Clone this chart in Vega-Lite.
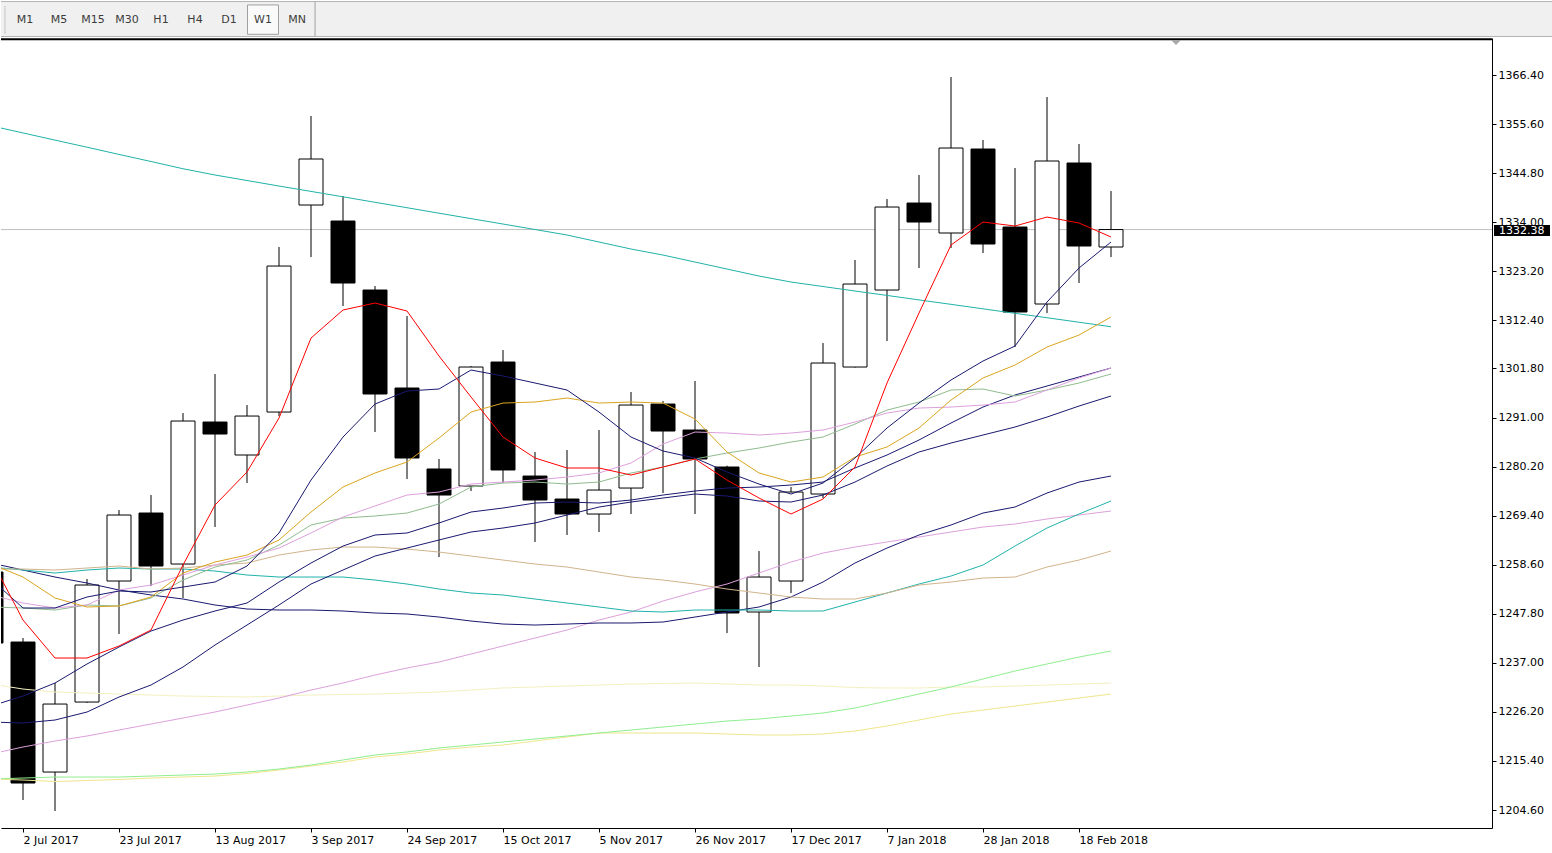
{
  "$schema": "https://vega.github.io/schema/vega-lite/v6.json",
  "background": "#ffffff",
  "padding": {"left": 0, "top": 0, "right": 0, "bottom": 10},
  "spacing": 0,
  "config": {
    "view": {"stroke": null},
    "axis": {"grid": false, "labelFont": "DejaVu Sans", "labelFontSize": 11, "labelColor": "#000000", "tickColor": "#000000", "domainColor": "#000000", "title": null}
  },
  "vconcat": [
    {
      "width": 1552,
      "height": 36,
      "view": {"fill": "#f0f0f0", "stroke": null},
      "data": {"values": [
        {"tf": "M1", "slot": 1}, {"tf": "M5", "slot": 2}, {"tf": "M15", "slot": 3},
        {"tf": "M30", "slot": 4}, {"tf": "H1", "slot": 5}, {"tf": "H4", "slot": 6},
        {"tf": "D1", "slot": 7}, {"tf": "W1", "slot": 8}, {"tf": "MN", "slot": 9}
      ]},
      "layer": [
        {
          "transform": [{"filter": "datum.tf === 'W1'"}],
          "mark": {"type": "bar", "size": 31, "fill": "#fafafa", "stroke": "#a0a0a0", "strokeWidth": 1},
          "encoding": {
            "x": {"field": "slot", "type": "quantitative", "scale": {"domain": [0.294, 45.94], "nice": false, "zero": false, "padding": 0}, "axis": null},
            "y": {"datum": 0.075, "type": "quantitative", "scale": {"domain": [0, 1], "nice": false, "padding": 0}, "axis": null},
            "y2": {"datum": 0.89}
          }
        },
        {
          "mark": {"type": "text", "font": "DejaVu Sans", "fontSize": 11, "color": "#3c3c3c", "baseline": "middle"},
          "encoding": {
            "x": {"field": "slot", "type": "quantitative", "axis": null},
            "y": {"datum": 0.47, "type": "quantitative", "axis": null},
            "text": {"field": "tf"}
          }
        },
        {
          "data": {"values": [{}]},
          "mark": {"type": "rule", "color": "#a0a0a0", "strokeWidth": 1},
          "encoding": {"x": {"datum": 9.53, "type": "quantitative", "axis": null}}
        },
        {
          "data": {"values": [{}]},
          "mark": {"type": "rule", "color": "#9a9a9a", "strokeWidth": 1, "strokeDash": [1, 1]},
          "encoding": {
            "x": {"datum": 0.41, "type": "quantitative", "axis": null},
            "y": {"datum": 0.1, "type": "quantitative", "axis": null},
            "y2": {"datum": 0.86}
          }
        },
        {
          "data": {"values": [{"edge": 0.985}, {"edge": 0.014}]},
          "mark": {"type": "rule", "color": "#b4b4b4", "strokeWidth": 1},
          "encoding": {"y": {"field": "edge", "type": "quantitative", "axis": null}}
        }
      ]
    },
    {
      "width": 1491,
      "height": 790,
      "view": {"stroke": null},
      "data": {"values": [
        {"d":"2017-06-25","o":1256.99,"h":1262.0,"l":1236.0,"c":1241.36,"r":1259.85,"n1":1255.45,"g":1258.75,"p1":1251.93,"s":1249.29,"n2":1227.49,"n3":1223.97,"tn":1257.65,"tl":1258.09,"n4":1258.97,"p2":1216.93,"lg":1211.42,"kh":1211.42,"ly":1232.34,"tu":1355.22},
        {"d":"2017-07-02","o":1241.58,"h":1242.46,"l":1206.80,"c":1210.54,"r":1246.42,"n1":1249.07,"g":1255.89,"p1":1250.17,"s":1249.07,"n2":1229.69,"n3":1223.75,"tn":1257.65,"tl":1257.43,"n4":1257.43,"p2":1218.47,"lg":1211.64,"kh":1211.20,"ly":1231.23,"tu":1353.65},
        {"d":"2017-07-09","o":1212.96,"h":1232.55,"l":1204.38,"c":1227.93,"r":1238.06,"n1":1249.07,"g":1251.27,"p1":1249.07,"s":1248.63,"n2":1232.56,"n3":1224.41,"tn":1257.43,"tl":1256.77,"n4":1255.89,"p2":1219.79,"lg":1211.86,"kh":1210.87,"ly":1230.57,"tu":1352.07},
        {"d":"2017-07-16","o":1228.37,"h":1255.45,"l":1228.20,"c":1254.13,"r":1238.06,"n1":1251.49,"g":1249.29,"p1":1249.73,"s":1249.73,"n2":1236.74,"n3":1226.17,"tn":1257.87,"tl":1257.43,"n4":1254.57,"p2":1220.89,"lg":1211.86,"kh":1211.09,"ly":1230.35,"tu":1350.51},
        {"d":"2017-07-23","o":1255.01,"h":1270.64,"l":1243.34,"c":1269.54,"r":1240.70,"n1":1252.81,"g":1249.51,"p1":1253.03,"s":1249.51,"n2":1240.48,"n3":1229.47,"tn":1258.31,"tl":1257.87,"n4":1253.03,"p2":1222.21,"lg":1211.86,"kh":1211.31,"ly":1230.13,"tu":1348.92},
        {"d":"2017-07-30","o":1269.98,"h":1273.94,"l":1253.91,"c":1258.31,"r":1244.22,"n1":1252.59,"g":1251.49,"p1":1254.13,"s":1251.27,"n2":1244.00,"n3":1232.12,"tn":1257.65,"tl":1257.65,"n4":1251.93,"p2":1223.53,"lg":1212.08,"kh":1211.64,"ly":1229.91,"tu":1347.36},
        {"d":"2017-08-06","o":1258.75,"h":1291.99,"l":1251.27,"c":1290.23,"r":1258.53,"n1":1253.69,"g":1256.77,"p1":1256.33,"s":1255.23,"n2":1246.42,"n3":1236.08,"tn":1257.87,"tl":1257.65,"n4":1251.05,"p2":1224.85,"lg":1212.30,"kh":1211.86,"ly":1229.69,"tu":1345.77},
        {"d":"2017-08-13","o":1290.01,"h":1300.58,"l":1266.90,"c":1287.37,"r":1271.74,"n1":1254.79,"g":1259.19,"p1":1258.53,"s":1258.09,"n2":1248.41,"n3":1240.92,"tn":1258.53,"tl":1257.21,"n4":1249.73,"p2":1226.17,"lg":1212.52,"kh":1212.08,"ly":1229.58,"tu":1344.39},
        {"d":"2017-08-20","o":1282.75,"h":1293.75,"l":1276.58,"c":1291.33,"r":1279.00,"n1":1258.31,"g":1260.73,"p1":1260.29,"s":1259.63,"n2":1250.17,"n3":1245.32,"tn":1258.97,"tl":1256.33,"n4":1248.85,"p2":1227.71,"lg":1212.96,"kh":1212.63,"ly":1229.47,"tu":1343.18},
        {"d":"2017-08-27","o":1292.21,"h":1328.54,"l":1291.30,"c":1324.35,"r":1290.89,"n1":1265.58,"g":1264.04,"p1":1262.27,"s":1262.93,"n2":1254.79,"n3":1249.73,"tn":1260.73,"tl":1255.89,"n4":1248.63,"p2":1229.25,"lg":1213.62,"kh":1213.40,"ly":1229.69,"tu":1341.96},
        {"d":"2017-09-03","o":1337.78,"h":1357.37,"l":1326.33,"c":1347.91,"r":1308.50,"n1":1277.24,"g":1270.20,"p1":1265.58,"s":1267.34,"n2":1258.97,"n3":1254.35,"tn":1261.84,"tl":1255.89,"n4":1248.63,"p2":1231.01,"lg":1214.50,"kh":1214.28,"ly":1229.91,"tu":1340.78},
        {"d":"2017-09-10","o":1334.26,"h":1339.76,"l":1315.55,"c":1320.61,"r":1314.67,"n1":1286.71,"g":1275.70,"p1":1269.10,"s":1268.88,"n2":1262.71,"n3":1257.43,"tn":1262.49,"tl":1255.89,"n4":1248.41,"p2":1232.56,"lg":1215.61,"kh":1215.16,"ly":1230.02,"tu":1339.59},
        {"d":"2017-09-17","o":1319.07,"h":1319.95,"l":1287.81,"c":1296.18,"r":1316.21,"n1":1293.97,"g":1278.79,"p1":1271.52,"s":1269.32,"n2":1265.14,"n3":1260.51,"tn":1262.49,"tl":1255.23,"n4":1247.97,"p2":1234.32,"lg":1216.71,"kh":1216.27,"ly":1230.13,"tu":1338.38},
        {"d":"2017-09-24","o":1297.50,"h":1313.35,"l":1277.46,"c":1282.09,"r":1314.45,"n1":1296.84,"g":1281.21,"p1":1273.94,"s":1269.98,"n2":1265.58,"n3":1262.27,"tn":1262.05,"tl":1254.35,"n4":1247.75,"p2":1235.86,"lg":1217.37,"kh":1216.93,"ly":1230.35,"tu":1337.19},
        {"d":"2017-10-01","o":1279.67,"h":1281.87,"l":1260.29,"c":1273.94,"r":1304.54,"n1":1297.28,"g":1286.49,"p1":1274.60,"s":1271.96,"n2":1267.78,"n3":1264.04,"tn":1261.39,"tl":1253.25,"n4":1247.08,"p2":1237.18,"lg":1218.25,"kh":1217.81,"ly":1230.57,"tu":1335.98},
        {"d":"2017-10-08","o":1275.92,"h":1302.34,"l":1274.82,"c":1302.12,"r":1295.52,"n1":1301.46,"g":1292.21,"p1":1276.36,"s":1275.70,"n2":1270.20,"n3":1265.80,"tn":1260.51,"tl":1252.37,"n4":1246.20,"p2":1238.94,"lg":1218.91,"kh":1218.47,"ly":1231.01,"tu":1334.79},
        {"d":"2017-10-15","o":1303.22,"h":1305.86,"l":1276.58,"c":1279.45,"r":1286.71,"n1":1300.14,"g":1294.19,"p1":1276.80,"s":1276.58,"n2":1271.08,"n3":1266.68,"tn":1259.63,"tl":1251.93,"n4":1245.54,"p2":1240.70,"lg":1219.57,"kh":1218.91,"ly":1231.46,"tu":1333.60},
        {"d":"2017-10-22","o":1278.12,"h":1283.41,"l":1263.60,"c":1272.84,"r":1282.09,"n1":1298.60,"g":1294.41,"p1":1277.24,"s":1276.80,"n2":1272.18,"n3":1267.78,"tn":1258.75,"tl":1251.05,"n4":1245.32,"p2":1242.46,"lg":1220.23,"kh":1219.79,"ly":1231.68,"tu":1332.39},
        {"d":"2017-10-29","o":1273.06,"h":1283.85,"l":1265.14,"c":1269.76,"r":1279.89,"n1":1297.06,"g":1295.29,"p1":1277.90,"s":1276.36,"n2":1272.40,"n3":1269.54,"tn":1258.09,"tl":1250.17,"n4":1245.54,"p2":1244.22,"lg":1220.89,"kh":1220.67,"ly":1231.90,"tu":1331.18},
        {"d":"2017-11-05","o":1269.76,"h":1288.25,"l":1265.80,"c":1275.04,"r":1279.89,"n1":1292.21,"g":1294.19,"p1":1278.79,"s":1276.80,"n2":1272.18,"n3":1271.30,"tn":1256.99,"tl":1249.29,"n4":1245.77,"p2":1246.42,"lg":1221.55,"kh":1221.55,"ly":1232.12,"tu":1329.64},
        {"d":"2017-11-12","o":1275.48,"h":1296.62,"l":1269.76,"c":1293.75,"r":1278.34,"n1":1286.71,"g":1294.41,"p1":1280.99,"s":1278.79,"n2":1272.84,"n3":1272.40,"tn":1255.89,"tl":1248.41,"n4":1245.77,"p2":1248.19,"lg":1222.21,"kh":1221.55,"ly":1232.34,"tu":1328.10},
        {"d":"2017-11-19","o":1293.97,"h":1294.63,"l":1274.38,"c":1288.03,"r":1280.11,"n1":1283.63,"g":1294.19,"p1":1285.17,"s":1280.11,"n2":1273.94,"n3":1273.28,"tn":1255.23,"tl":1248.19,"n4":1245.98,"p2":1250.61,"lg":1222.87,"kh":1221.55,"ly":1232.45,"tu":1326.77},
        {"d":"2017-11-26","o":1288.25,"h":1299.04,"l":1269.76,"c":1281.87,"r":1281.87,"n1":1282.09,"g":1290.67,"p1":1287.81,"s":1281.87,"n2":1274.82,"n3":1274.16,"tn":1254.35,"tl":1248.63,"n4":1247.08,"p2":1252.59,"lg":1223.53,"kh":1221.55,"ly":1232.56,"tu":1325.23},
        {"d":"2017-12-03","o":1280.11,"h":1280.40,"l":1243.56,"c":1247.97,"r":1277.24,"n1":1279.00,"g":1283.41,"p1":1287.59,"s":1283.19,"n2":1275.48,"n3":1273.72,"tn":1253.25,"tl":1248.63,"n4":1248.19,"p2":1254.35,"lg":1224.19,"kh":1221.33,"ly":1232.34,"tu":1323.69},
        {"d":"2017-12-10","o":1248.19,"h":1261.61,"l":1236.08,"c":1255.89,"r":1273.28,"n1":1276.36,"g":1278.79,"p1":1287.15,"s":1284.29,"n2":1275.70,"n3":1272.62,"tn":1252.37,"tl":1248.63,"n4":1249.29,"p2":1256.77,"lg":1224.63,"kh":1221.11,"ly":1232.12,"tu":1322.15},
        {"d":"2017-12-17","o":1255.01,"h":1275.70,"l":1252.37,"c":1274.60,"r":1269.76,"n1":1274.16,"g":1276.80,"p1":1287.59,"s":1285.61,"n2":1276.14,"n3":1272.40,"tn":1251.49,"tl":1248.41,"n4":1251.49,"p2":1259.19,"lg":1225.29,"kh":1221.11,"ly":1232.12,"tu":1320.83},
        {"d":"2017-12-24","o":1274.16,"h":1307.40,"l":1273.28,"c":1303.00,"r":1273.06,"n1":1276.58,"g":1277.90,"p1":1288.25,"s":1286.71,"n2":1276.80,"n3":1273.94,"tn":1251.05,"tl":1248.41,"n4":1254.79,"p2":1261.17,"lg":1225.95,"kh":1221.33,"ly":1231.90,"tu":1319.84},
        {"d":"2017-12-31","o":1302.12,"h":1325.67,"l":1302.00,"c":1320.39,"r":1280.11,"n1":1282.09,"g":1282.31,"p1":1290.01,"s":1289.57,"n2":1279.89,"n3":1276.80,"tn":1251.05,"tl":1250.39,"n4":1258.97,"p2":1262.49,"lg":1227.05,"kh":1221.99,"ly":1231.56,"tu":1318.85},
        {"d":"2018-01-07","o":1319.07,"h":1339.10,"l":1307.84,"c":1337.34,"r":1298.60,"n1":1288.69,"g":1284.51,"p1":1291.99,"s":1292.65,"n2":1282.75,"n3":1280.33,"tn":1252.37,"tl":1252.37,"n4":1262.27,"p2":1263.60,"lg":1228.59,"kh":1223.09,"ly":1231.46,"tu":1317.88},
        {"d":"2018-01-14","o":1338.22,"h":1344.39,"l":1323.91,"c":1334.04,"r":1314.01,"n1":1294.19,"g":1288.69,"p1":1293.09,"s":1294.41,"n2":1286.05,"n3":1283.41,"tn":1254.13,"tl":1254.35,"n4":1265.14,"p2":1264.70,"lg":1230.13,"kh":1224.41,"ly":1231.46,"tu":1316.89},
        {"d":"2018-01-21","o":1331.62,"h":1365.96,"l":1328.32,"c":1350.33,"r":1328.98,"n1":1299.26,"g":1294.85,"p1":1293.31,"s":1297.06,"n2":1289.79,"n3":1285.39,"tn":1254.79,"tl":1256.11,"n4":1267.34,"p2":1265.80,"lg":1231.68,"kh":1225.73,"ly":1231.68,"tu":1315.92},
        {"d":"2018-01-28","o":1350.11,"h":1352.09,"l":1327.22,"c":1329.20,"r":1334.04,"n1":1303.44,"g":1299.70,"p1":1293.75,"s":1297.28,"n2":1293.31,"n3":1287.15,"tn":1255.67,"tl":1258.53,"n4":1269.98,"p2":1266.90,"lg":1233.44,"kh":1226.61,"ly":1231.68,"tu":1314.93},
        {"d":"2018-02-04","o":1332.94,"h":1345.93,"l":1306.52,"c":1314.23,"r":1333.16,"n1":1306.74,"g":1302.56,"p1":1294.41,"s":1295.74,"n2":1295.96,"n3":1288.91,"tn":1255.89,"tl":1262.71,"n4":1271.30,"p2":1267.56,"lg":1235.20,"kh":1227.49,"ly":1231.90,"tu":1313.94},
        {"d":"2018-02-11","o":1315.99,"h":1361.56,"l":1314.01,"c":1347.47,"r":1335.14,"n1":1316.43,"g":1306.52,"p1":1297.06,"s":1297.06,"n2":1297.94,"n3":1291.11,"tn":1258.09,"tl":1266.68,"n4":1274.38,"p2":1268.66,"lg":1236.74,"kh":1228.37,"ly":1232.12,"tu":1312.97},
        {"d":"2018-02-18","o":1347.03,"h":1351.21,"l":1320.61,"c":1328.76,"r":1333.82,"n1":1323.91,"g":1309.16,"p1":1299.70,"s":1298.60,"n2":1299.92,"n3":1293.53,"tn":1259.63,"tl":1269.76,"n4":1276.80,"p2":1269.54,"lg":1238.28,"kh":1229.25,"ly":1232.34,"tu":1311.98},
        {"d":"2018-02-25","o":1328.54,"h":1340.86,"l":1326.33,"c":1332.38,"r":1330.74,"n1":1329.64,"g":1313.13,"p1":1301.90,"s":1300.58,"n2":1301.90,"n3":1295.74,"tn":1261.61,"tl":1272.62,"n4":1278.12,"p2":1270.42,"lg":1239.60,"kh":1230.13,"ly":1232.56,"tu":1310.99}
      ]},
      "layer": [
        {
          "data": {"values": [{}]},
          "mark": {"type": "rule", "color": "#c0c0c0", "strokeWidth": 1},
          "encoding": {"y": {"datum": 1332.38, "type": "quantitative"}}
        },
        {
          "data": {"values": [{}]},
          "mark": {"type": "rule", "color": "#000000", "strokeWidth": 2},
          "encoding": {"y": {"datum": 1374.3, "type": "quantitative"}}
        },
        {
          "mark": {"type": "rule", "color": "#000000", "strokeWidth": 1, "clip": true},
          "encoding": {
            "x": {
              "field": "d", "type": "temporal",
              "scale": {"type": "utc", "nice": false, "padding": 0, "domain": [
                {"year": 2017, "month": 6, "date": 27, "hours": 4, "minutes": 30, "utc": true},
                {"year": 2018, "month": 5, "date": 19, "hours": 8, "minutes": 10, "utc": true}
              ]},
              "axis": {
                "values": [
                  {"year": 2017, "month": 7, "date": 2, "utc": true},
                  {"year": 2017, "month": 7, "date": 23, "utc": true},
                  {"year": 2017, "month": 8, "date": 13, "utc": true},
                  {"year": 2017, "month": 9, "date": 3, "utc": true},
                  {"year": 2017, "month": 9, "date": 24, "utc": true},
                  {"year": 2017, "month": 10, "date": 15, "utc": true},
                  {"year": 2017, "month": 11, "date": 5, "utc": true},
                  {"year": 2017, "month": 11, "date": 26, "utc": true},
                  {"year": 2017, "month": 12, "date": 17, "utc": true},
                  {"year": 2018, "month": 1, "date": 7, "utc": true},
                  {"year": 2018, "month": 1, "date": 28, "utc": true},
                  {"year": 2018, "month": 2, "date": 18, "utc": true}
                ],
                "format": "%-d %b %Y",
                "tickSize": 4,
                "labelAlign": "left",
                "labelBaseline": "top",
                "labelPadding": 2,
                "labelFlush": false,
                "labelOverlap": false
              }
            },
            "y": {
              "field": "l", "type": "quantitative",
              "scale": {"domain": [1200.64, 1374.55], "zero": false, "nice": false, "padding": 0},
              "axis": {
                "orient": "right",
                "values": [1204.6, 1215.4, 1226.2, 1237.0, 1247.8, 1258.6, 1269.4, 1280.2, 1291.0, 1301.8, 1312.4, 1323.2, 1334.0, 1344.8, 1355.6, 1366.4],
                "format": ".2f",
                "tickSize": 4,
                "labelPadding": 2,
                "labelFlush": false,
                "labelOverlap": false
              }
            },
            "y2": {"field": "h"}
          }
        },
        {
          "mark": {"type": "bar", "size": 24, "stroke": "#000000", "strokeWidth": 1, "opacity": 1, "clip": true},
          "encoding": {
            "x": {"field": "d", "type": "temporal"},
            "y": {"field": "o", "type": "quantitative"},
            "y2": {"field": "c"},
            "fill": {"condition": {"test": "datum.c >= datum.o", "value": "#ffffff"}, "value": "#000000"}
          }
        },
        {
          "transform": [{"fold": ["tu", "ly", "kh", "lg", "p2", "n4", "tl", "tn", "n3", "n2", "s", "p1", "g", "n1", "r"], "as": ["ma", "v"]}],
          "mark": {"type": "line", "strokeWidth": 1, "clip": true},
          "encoding": {
            "x": {"field": "d", "type": "temporal"},
            "y": {"field": "v", "type": "quantitative"},
            "color": {
              "field": "ma", "type": "nominal", "legend": null,
              "scale": {
                "domain": ["tu", "ly", "kh", "lg", "p2", "n4", "tl", "tn", "n3", "n2", "s", "p1", "g", "n1", "r"],
                "range": ["#20b2aa", "#f5f0c0", "#f0e68c", "#90ee90", "#dda0dd", "#191970", "#20b2aa", "#d2b48c", "#191970", "#191970", "#8fbc8f", "#dda0dd", "#daa520", "#191970", "#ff0000"]
              }
            }
          }
        },
        {
          "data": {"values": [{}]},
          "mark": {"type": "rect", "color": "#000000", "clip": false},
          "encoding": {
            "x": {"datum": {"year": 2018, "month": 5, "date": 19, "hours": 18, "minutes": 40, "utc": true}, "type": "temporal"},
            "x2": {"datum": {"year": 2018, "month": 6, "date": 1, "hours": 0, "minutes": 40, "utc": true}},
            "y": {"datum": 1333.38, "type": "quantitative"},
            "y2": {"datum": 1330.96}
          }
        },
        {
          "data": {"values": [{"p": "1332.38"}]},
          "mark": {"type": "text", "align": "left", "baseline": "middle", "dx": 7, "font": "DejaVu Sans", "fontSize": 11, "color": "#ffffff", "clip": false},
          "encoding": {
            "x": {"datum": {"year": 2018, "month": 5, "date": 19, "hours": 8, "minutes": 10, "utc": true}, "type": "temporal"},
            "y": {"datum": 1332.17, "type": "quantitative"},
            "text": {"field": "p"}
          }
        },
        {
          "data": {"values": [{}]},
          "mark": {"type": "point", "shape": "M-1,-0.5L1,-0.5L0,0.5Z", "filled": true, "color": "#a8a8a8", "size": 100, "opacity": 1},
          "encoding": {
            "x": {"datum": {"year": 2018, "month": 3, "date": 11, "hours": 5, "minutes": 15, "utc": true}, "type": "temporal"},
            "y": {"datum": 1373.55, "type": "quantitative"}
          }
        }
      ]
    }
  ]
}
